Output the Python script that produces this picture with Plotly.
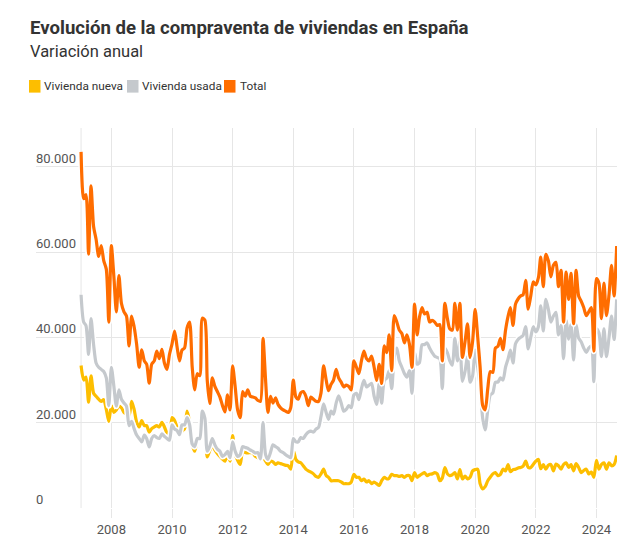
import pandas as pd
import plotly.graph_objects as go

# ---- data (miles de viviendas, mensual, ene-2007 .. sep-2024) ----
START = "2007-01-01"
SERIES_NAMES = ["Vivienda nueva", "Vivienda usada", "Total"]
SERIES_COLORS = ["#FDBE00", "#C5C9CD", "#FF6D00"]

nueva_k = [
    33.4, 30, 30.7, 24.8, 31, 26.9, 26.2, 25.5, 25, 25.4, 23.1, 20.3,
    24, 22.4, 23, 23.9, 23.5, 22.4, 22, 21.6, 25, 23.1, 20.1, 19,
    20.5, 19.3, 19.3, 17.8, 18.6, 19, 19.3, 19, 20.1, 19, 17.5, 16.5,
    21.2, 20.5, 19, 17.1, 18, 18.6, 22.7, 20.1, 15, 13.3, 15.9, 16.3,
    22.4, 19, 12, 13.5, 14.8, 13.6, 12.8, 12.1, 11.5, 11, 12.5, 11,
    17, 12.5, 11.2, 10.2, 13.3, 13, 12.9, 13, 12.9, 12.1, 11.8, 11.4,
    11.8, 11, 10.2, 11, 10.8, 10.2, 10.6, 10.4, 10.2, 10, 9.9, 9.1,
    13.6, 11.4, 10.8, 10.6, 9.9, 9.1, 8.7, 8.4, 8, 7.4, 7.2, 8,
    9.1, 7.6, 7.2, 6.4, 6.4, 6.4, 6.4, 6.1, 5.7, 5.7, 5.7, 6.1,
    7.9, 7.2, 7.2, 6.4, 6.8, 6.1, 6.4, 5.7, 6.1, 5.7, 5.3, 6.4,
    7.2, 6.8, 7, 7.9, 7.6, 7.6, 7.4, 7.6, 7.2, 7.6, 7.6, 6.4,
    8.3, 7.2, 7.6, 8, 8.3, 7.6, 7.9, 8, 8.3, 8, 6.4, 7,
    9.5, 8, 7.6, 7.8, 8.3, 6.8, 9, 6.8, 7.5, 6.8, 7.2, 8.7,
    9, 9.1, 5.7, 4.5, 5, 6.4, 7.2, 8, 8.3, 7.6, 7.9, 9.1,
    8.7, 10.2, 8.5, 9, 9.1, 9.4, 9.5, 9.8, 11, 9.5, 9.5, 10.2,
    11, 11.4, 9.2, 10.2, 9.1, 10, 10.2, 8.7, 10.3, 9.9, 9.1, 10.2,
    10.6, 9.5, 10.2, 8.7, 10.4, 9.5, 8.3, 8.8, 9.1, 8, 8.4, 7.2,
    11.2, 9.1, 10.2, 10.6, 9.1, 10.6, 9.9, 10.2, 12.3,
]

usada_k = [
    50, 43.6, 42.8, 36, 44.4, 38.3, 34, 33, 32.5, 32, 30.5, 24,
    33, 28.4, 23.9, 27.7, 25.5, 24.6, 23.9, 19.3, 20.3, 18.6, 17.1, 16.3,
    15.5, 17.1, 16.3, 14.3, 16.3, 17, 16.5, 16.3, 17.4, 16.8, 16.3, 15.9,
    19.5, 18.5, 18.2, 17.2, 19.5, 19.5, 21.2, 19.5, 15, 14.4, 16.3, 16.3,
    22.7, 21, 13.3, 14.5, 16.3, 14.8, 13.8, 13.3, 12.1, 12.5, 13.3, 11.8,
    15.5, 13.3, 12.1, 12.5, 14.4, 14.2, 14, 13.6, 13.3, 12.9, 13, 11.5,
    20, 12.5, 11.4, 13, 14.8, 14.4, 14, 13.3, 13, 12.5, 12.1, 11.8,
    16.3, 15.5, 15.5, 16.5, 16.3, 17.2, 17.8, 18, 17.8, 18.5, 18.9, 21.5,
    24.4, 22.4, 20.8, 22.7, 22, 24.6, 26.3, 24.6, 22.7, 23.1, 24, 23.5,
    26.5, 26.9, 25.4, 28, 29.9, 28.4, 28.8, 29.2, 26.2, 24.3, 29.2, 24.6,
    29.9, 30.5, 32.2, 28, 35.5, 37.5, 34.5, 33, 31.5, 30.7, 32.2, 26.9,
    36.5, 33.7, 34.1, 38.3, 38.3, 38.7, 37.5, 36.4, 35.6, 35.3, 35, 28,
    37.5, 36.4, 34.5, 33.5, 39.8, 34.5, 39, 29.7, 32, 35.5, 29.5, 31,
    37, 33, 28.5, 21, 18.3, 23, 26.5, 27, 29.5, 29.5, 30.5, 30,
    33, 35, 37, 34, 38.5, 39.5, 40, 40.5, 42.5, 37.3, 40, 42.5,
    41.3, 42.5, 47.4, 41.5, 48.9, 46.6, 43.6, 45, 45.9, 40.6, 42.8, 35,
    44, 39.6, 43, 34.7, 43, 39.8, 39, 37.5, 36.5, 37.5, 38, 29.6,
    42, 41, 35.5, 42, 35.5, 40, 45, 39.5, 48.9,
]

total_k = [
    83.5, 72.5, 73.5, 59.5, 75.5, 66, 63, 59, 61.5, 58, 56, 43.6,
    61.5, 54, 46, 54.5, 48, 46, 45, 38, 45, 42.5, 38.3, 33,
    37.1, 34.5, 33.7, 29.3, 33.7, 34.5, 36.8, 35, 37.2, 34, 32.5, 36,
    38.5, 41.5, 38, 34.5, 37, 37.5, 42.2, 43.6, 33, 27.7, 31.5, 31,
    44.5, 44, 30, 24.5, 30.5, 28.5, 27.3, 26, 24, 22.5, 26.5, 23,
    33.3, 28.4, 23, 21.2, 27.3, 26.2, 27.7, 26.2, 26, 25.8, 25.2, 25,
    39.8, 30, 22.4, 26.2, 24.6, 25.8, 24.3, 23.5, 23, 22.7, 22.4, 23.5,
    30, 26, 25.5, 27, 27.3, 26.2, 24, 26, 25.5, 25, 25, 27,
    33.3, 30, 27.5, 29, 30, 32.5, 30.5, 29.5, 28.4, 28.8, 28.5, 27.7,
    34.5, 33, 31.5, 34.5, 36.8, 35, 34.5, 35.6, 33, 29.9, 33.7, 29.2,
    38, 36.4, 40.6, 32.2, 45.1, 43.6, 41.7, 40.9, 38.7, 40.6, 38.3, 33,
    47.8, 40.6, 44.7, 47, 45.5, 45.9, 43.6, 44, 43.6, 42.8, 43, 34.5,
    48, 44.4, 42, 41.7, 48, 41.7, 48, 35.3, 39, 43.2, 35.3, 39,
    46.6, 40, 33, 24, 23, 28, 32, 31.8, 37.5, 37.9, 39.8, 37.1,
    41.7, 45, 47, 42.8, 47.8, 49, 49.7, 50, 53.4, 46.6, 49.7, 53,
    52.3, 54, 58.8, 51.9, 59.5, 58, 54.2, 56.9, 57.6, 51.9, 55.7, 43.6,
    55.3, 48.9, 55, 43.2, 55.7, 49.7, 48.5, 47, 45.1, 46, 47, 36.8,
    53.8, 52.7, 44.4, 52.7, 45.1, 50, 56.9, 49.7, 61.4,
]

Y_TICKS = [0, 20000, 40000, 60000, 80000]
X_TICK_YEARS = list(range(2008, 2025, 2))

TITLE = "Evolución de la compraventa de viviendas en España"
SUBTITLE = "Variación anual"

# ---- layout geometry ----
W, H = 629, 549
L, R, T, B = 36, 12, 128, 29
PW, PH = W - L - R, H - T - B


def fx(px):
    return (px - L) / PW


def fy(py):
    return (H - B - py) / PH


def fmt_es(v):
    return f"{v:,}".replace(",", ".")


dates = pd.date_range(START, periods=len(total_k), freq="MS")
series = [
    [v * 1000 for v in nueva_k],
    [v * 1000 for v in usada_k],
    [v * 1000 for v in total_k],
]

fig = go.Figure()
for name, color, vals in zip(SERIES_NAMES, SERIES_COLORS, series):
    fig.add_trace(go.Scatter(
        x=dates, y=vals, mode="lines", showlegend=False, hoverinfo="skip",
        line=dict(color="white", width=6.2, shape="spline", smoothing=0.7),
    ))
    fig.add_trace(go.Scatter(
        x=dates, y=vals, mode="lines", name=name, showlegend=False,
        line=dict(color=color, width=3.2, shape="spline", smoothing=0.7),
    ))

GRID = "#E6E6E6"
TXT = "#333333"
TICK_TXT = "#555555"

annotations = [
    dict(text="<b>" + TITLE + "</b>", x=fx(28), y=fy(25), xref="paper", yref="paper",
         xanchor="left", yanchor="middle", showarrow=False,
         font=dict(size=18.6, color=TXT, family="Roboto")),
    dict(text=SUBTITLE, x=fx(28), y=fy(49), xref="paper", yref="paper",
         xanchor="left", yanchor="middle", showarrow=False,
         font=dict(size=16.5, color=TXT, family="Roboto")),
]
# y-axis labels sitting above their gridlines (Datawrapper style)
for v in Y_TICKS:
    annotations.append(dict(text=fmt_es(v), x=fx(34), y=v, xref="paper", yref="y",
                            xanchor="left", yanchor="bottom", yshift=-1, showarrow=False,
                            font=dict(size=13, color=TICK_TXT, family="Roboto")))

shapes = [
    dict(type="line", xref="x", yref="paper", x0=dates[0], x1=dates[0], y0=0, y1=1,
         line=dict(color=GRID, width=1), layer="below"),
]
legend_sq_x = [29, 127, 224]
legend_tx_x = [42, 140, 238]
for name, color, sx, tx in zip(SERIES_NAMES, SERIES_COLORS, legend_sq_x, legend_tx_x):
    shapes.append(dict(type="rect", xref="paper", yref="paper",
                       x0=fx(sx), x1=fx(sx + 11.5), y0=fy(91.5), y1=fy(78.5),
                       fillcolor=color, line=dict(width=0)))
    annotations.append(dict(text=name, x=fx(tx), y=fy(84.5), xref="paper", yref="paper",
                            xanchor="left", yanchor="middle", showarrow=False,
                            font=dict(size=11.8, color=TXT, family="Roboto")))

fig.update_layout(
    width=W, height=H,
    margin=dict(l=L, r=R, t=T, b=B, pad=0),
    paper_bgcolor="white", plot_bgcolor="white",
    font=dict(family="Roboto", color=TICK_TXT, size=13),
    showlegend=False,
    annotations=annotations,
    shapes=shapes,
    xaxis=dict(
        type="date",
        range=["2005-07-07", "2024-09-05"],
        tickvals=[f"{y}-01-01" for y in X_TICK_YEARS],
        ticktext=[str(y) for y in X_TICK_YEARS],
        showgrid=True, gridcolor=GRID, gridwidth=1,
        ticks="outside", ticklen=9, tickcolor=GRID, tickwidth=1,
        showline=False, zeroline=False,
        tickfont=dict(size=13, color=TICK_TXT),
    ),
    yaxis=dict(
        range=[0, (H - B - T) / 88 * 20000],
        tickvals=Y_TICKS,
        showticklabels=False,
        showgrid=True, gridcolor=GRID, gridwidth=1,
        ticks="", showline=False, zeroline=False,
    ),
)

fig.write_html("out.html")
